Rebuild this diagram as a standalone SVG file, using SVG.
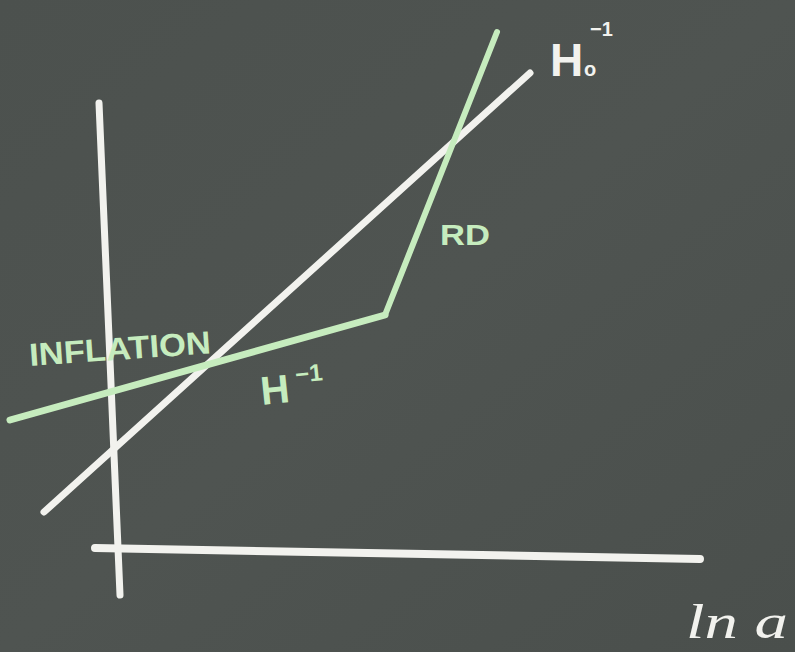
<svg xmlns="http://www.w3.org/2000/svg" width="795" height="652" viewBox="0 0 795 652">
<defs>
<linearGradient id="bg" x1="0" y1="0" x2="1" y2="1">
<stop offset="0" stop-color="#4c514e"/>
<stop offset="0.5" stop-color="#4f5451"/>
<stop offset="1" stop-color="#4a4f4c"/>
</linearGradient>
<style>
.chalk{fill:none;stroke:#f2f2ee;stroke-linecap:round;stroke-linejoin:round}
.green{fill:none;stroke:#c6ecbe;stroke-linecap:round;stroke-linejoin:round}
.lbl{font-family:"Liberation Sans",Arial,sans-serif;font-weight:bold}
</style>
</defs>
<rect width="795" height="652" fill="url(#bg)"/>
<g id="axes">
<line class="chalk" x1="99" y1="103" x2="120" y2="595" stroke-width="7"/>
<line class="chalk" x1="95" y1="548" x2="700" y2="559" stroke-width="8" stroke="#f3eeee"/>
</g>
<g id="connectors">
<line id="hubble" class="chalk" x1="44" y1="512" x2="530" y2="73" stroke-width="7"/>
<polyline id="inflation-line" class="green" points="10,420 385,315" stroke-width="7"/>
<polyline id="rd-line" class="green" points="385,315 497,32" stroke-width="6" stroke="#dff4d9"/>
</g>
<g id="labels">
<text class="lbl" x="550" y="76" font-size="46" fill="#f2f2ee" font-weight="normal">H</text>
<text class="lbl" x="584" y="76" font-size="20" fill="#f2f2ee">o</text>
<text class="lbl" x="590" y="36" font-size="20" fill="#f2f2ee" font-weight="normal">−1</text>
<text class="lbl" x="440" y="245" font-size="30" fill="#c6ecbe" textLength="50" lengthAdjust="spacingAndGlyphs">RD</text>
<text class="lbl" x="30" y="366" font-size="32" fill="#c6ecbe" textLength="182" lengthAdjust="spacingAndGlyphs" transform="rotate(-4 30 366)">INFLATION</text>
<text class="lbl" x="262" y="405" font-size="40" fill="#c6ecbe" font-weight="normal" transform="rotate(-6 262 405)">H</text>
<text class="lbl" x="296" y="383" font-size="24" fill="#c6ecbe" transform="rotate(-6 296 383)">−1</text>
<text x="686" y="638" font-size="48" fill="#f2f2ee" font-family="Liberation Serif,serif" font-style="italic" textLength="102" lengthAdjust="spacingAndGlyphs">ln a</text>
</g>
</svg>
